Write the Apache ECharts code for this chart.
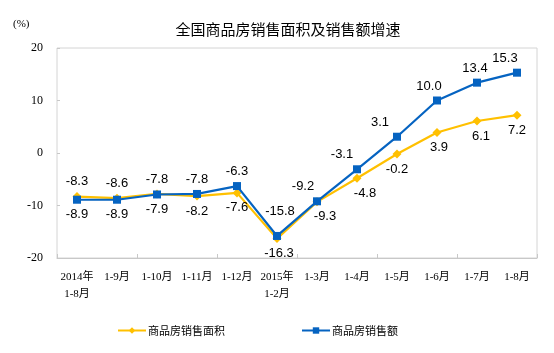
<!DOCTYPE html>
<html>
<head>
<meta charset="utf-8">
<script src="https://cdn.jsdelivr.net/npm/echarts@6/dist/echarts.min.js"></script>
<style>
  html, body { margin: 0; padding: 0; background: #fff; }
  #chart { width: 554px; height: 353px; }
</style>
</head>
<body>
<div id="chart"></div>
<script>
// 横轴类别
const categories = ["2014年\n1-8月", "1-9月", "1-10月", "1-11月", "1-12月", "2015年\n1-2月",
  "1-3月", "1-4月", "1-5月", "1-6月", "1-7月", "1-8月"];
// 商品房销售面积增速（%）
const areaValues = [-8.3, -8.6, -7.8, -8.2, -7.6, -16.3, -9.3, -4.8, -0.2, 3.9, 6.1, 7.2];
// 商品房销售额增速（%）
const salesValues = [-8.9, -8.9, -7.9, -7.8, -6.3, -15.8, -9.2, -3.1, 3.1, 10.0, 13.4, 15.3];
const yTicks = [-20, -10, 0, 10, 20];

const serif = "'Liberation Serif', 'Noto Sans CJK SC', serif";
const sans = "'Liberation Sans', 'Noto Sans CJK SC', sans-serif";

// 标签：较高的一条放上面，较低的放下面
function buildData(vals, other, shift) {
  return vals.map((v, i) => {
    const up = v > other[i];
    return {
      value: v,
      label: {
        position: up ? "top" : "bottom",
        offset: shift[i] || [0, 0],
      },
    };
  });
}

const chart = echarts.init(document.getElementById("chart"));
chart.setOption({
  animation: false,
  title: [
    {
      text: "全国商品房销售面积及销售额增速",
      left: 283,
      textAlign: "center",
      top: 17,
      textStyle: { fontSize: 15, fontWeight: "normal", color: "#000", fontFamily: "'Noto Sans CJK SC'" },
    },
    {
      // 单位
      text: "(%)",
      left: 8,
      top: 14,
      textStyle: { fontSize: 11, fontWeight: "normal", color: "#000", fontFamily: serif },
    },
  ],
  legend: {
    bottom: 12,
    left: 112,
    itemWidth: 28,
    itemHeight: 8,
    itemGap: 76,
    textStyle: { fontSize: 11, color: "#000", fontFamily: "'Noto Sans CJK SC'", padding: [0, 0, 0, -3] },
    data: ["商品房销售面积", "商品房销售额"],
  },
  grid: {
    left: 57,
    right: 17,
    top: 48,
    bottom: 95,
    show: true,
    borderColor: "#d4d4d4",
    borderWidth: 1,
  },
  xAxis: [
    {
      type: "category",
      data: categories,
      boundaryGap: true,
      axisLine: { show: false },
      axisTick: { show: false },
      axisLabel: { margin: 11, fontSize: 11, color: "#000", fontFamily: serif, lineHeight: 17, interval: 0 },
    },
    {
      type: "category",
      data: categories,
      position: "bottom",
      boundaryGap: true,
      axisLine: { show: true, onZero: true, lineStyle: { color: "#c8c8c8", width: 1 } },
      axisTick: { show: true, inside: true, length: 4, lineStyle: { color: "#c8c8c8" } },
      axisLabel: { show: false },
    },
  ],
  yAxis: {
    type: "value",
    min: yTicks[0],
    max: yTicks[yTicks.length - 1],
    interval: 10,
    axisLine: { show: false },
    axisTick: { show: true, inside: true, length: 3, lineStyle: { color: "#c8c8c8" } },
    splitLine: { show: false },
    axisLabel: { margin: 14, fontSize: 12, color: "#000", fontFamily: serif },
  },
  series: [
    {
      name: "商品房销售面积",
      type: "line",
      xAxisIndex: 0,
      data: buildData(areaValues, salesValues, { 5: [2, 0], 6: [8, 0], 7: [8, 0], 9: [2, 0], 10: [4, 0] }),
      color: "#ffc000",
      symbol: "diamond",
      symbolSize: 9,
      lineStyle: { width: 2.2, color: "#ffc000" },
      itemStyle: { color: "#ffc000" },
      label: { show: true, fontSize: 13, color: "#000", fontFamily: sans, distance: 4, formatter: (p) => p.value.toFixed(1) },
      z: 2,
    },
    {
      name: "商品房销售额",
      type: "line",
      xAxisIndex: 0,
      data: buildData(salesValues, areaValues, { 5: [3, -10], 6: [-14, 0], 7: [-15, 0], 8: [-17, 0], 9: [-8, 0], 10: [-2, 0], 11: [-12, 0] }),
      color: "#0563c1",
      symbol: "rect",
      symbolSize: 8,
      lineStyle: { width: 2.2, color: "#0563c1" },
      itemStyle: { color: "#0563c1" },
      label: { show: true, fontSize: 13, color: "#000", fontFamily: sans, distance: 4, formatter: (p) => p.value.toFixed(1) },
      z: 3,
    },
  ],
});
</script>
</body>
</html>
